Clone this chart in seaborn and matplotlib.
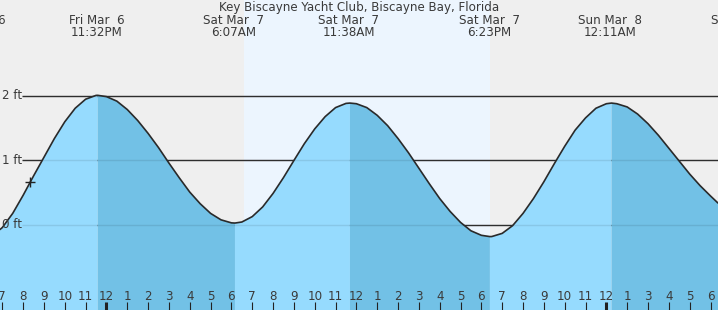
import numpy as np
import pandas as pd
import matplotlib
matplotlib.use("Agg")
import matplotlib.pyplot as plt
import matplotlib.transforms as mtransforms
import seaborn as sns

# ---------------- data (hours since Sat Mar 7 00:00, standard-time axis) ----------------
title = "Key Biscayne Yacht Club, Biscayne Bay, Florida"

curve_hours = [-5.11, -5, -4.5, -4, -3.5, -3, -2.5, -2, -1.5, -1, -0.5, -0.42, 0, 0.5, 1, 1.5,
               2, 2.5, 3, 3.5, 4, 4.5, 5, 5.5, 6, 6.17, 6.5, 7, 7.5, 8, 8.5, 9, 9.5, 10, 10.5,
               11, 11.5, 11.69, 12, 12.5, 13, 13.5, 14, 14.5, 15, 15.5, 16, 16.5, 17, 17.5, 18,
               18.41, 18.5, 19, 19.5, 20, 20.5, 21, 21.5, 22, 22.5, 23, 23.5, 24, 24.25, 24.5,
               25, 25.5, 26, 26.5, 27, 27.5, 28, 28.5, 29, 29.36]
curve_feet = [-0.07, -0.04, 0.18, 0.46, 0.76, 1.05, 1.34, 1.60, 1.81, 1.95, 2.009, 2.01, 1.99,
              1.92, 1.79, 1.62, 1.42, 1.20, 0.96, 0.73, 0.51, 0.33, 0.18, 0.08, 0.033, 0.03,
              0.046, 0.13, 0.28, 0.49, 0.735, 1.00, 1.26, 1.49, 1.68, 1.82, 1.885, 1.89, 1.88,
              1.82, 1.70, 1.54, 1.34, 1.12, 0.88, 0.64, 0.41, 0.21, 0.04, -0.09, -0.16, -0.18,
              -0.179, -0.13, -0.01, 0.18, 0.41, 0.67, 0.95, 1.22, 1.47, 1.66, 1.81, 1.88, 1.89,
              1.88, 1.83, 1.72, 1.57, 1.39, 1.19, 0.99, 0.79, 0.61, 0.45, 0.34]

high_hours = [-0.42, 11.69, 24.25]
low_hours = [6.17, 18.41]

now_hour = -3.67
now_feet = 0.67

sunrise_hour = 6.60
sunset_hour = 18.41

level_feet = [0, 1, 2]
level_labels = ["0 ft", "1 ft", "2 ft"]

event_hours = [-6.19, -0.47, 6.12, 11.64, 18.39, 24.19, 30.58]
event_days = ["Fri Mar  6", "Fri Mar  6", "Sat Mar  7", "Sat Mar  7", "Sat Mar  7",
              "Sun Mar  8", "Sun Mar  8"]
event_times = ["5:46PM", "11:32PM", "6:07AM", "11:38AM", "6:23PM", "12:11AM", "7:32AM"]

hour_ticks = list(range(-5, 30))
hour_labels = ["7", "8", "9", "10", "11", "12", "1", "2", "3", "4", "5", "6", "7", "8", "9",
               "10", "11", "12", "1", "2", "3", "4", "5", "6", "7", "8", "9", "10", "11",
               "12", "1", "3", "4", "5", "6"]
midnight_ticks = [0, 24]

# ---------------- style ----------------
sns.set_style("white")
plt.rcParams["font.family"] = ["DejaVu Sans"]

W, H = 718, 310
XMIN, XMAX = -5.11, 29.36
YMIN, YMAX = -1.318, 3.488

BG = "#EFEFEF"
DAY = "#ECF5FE"
LIGHT = "#96DBFE"
DARK = "#72C1E6"
TXT = "#3a3a3a"
FS = 8.6

fig = plt.figure(figsize=(W / 100, H / 100), dpi=100)
fig.patch.set_facecolor(BG)
ax = fig.add_axes([0, 0, 1, 1])
ax.set_facecolor(BG)
ax.set_xlim(XMIN, XMAX)
ax.set_ylim(YMIN, YMAX)

# daylight band
ax.axvspan(sunrise_hour, sunset_hour, color=DAY, lw=0, zorder=0)

# level lines (behind fill)
line_start = XMIN + 22 / 20.83
ax.hlines(level_feet, line_start, XMAX, color="#333333", lw=1.0, zorder=1)

# fill under the curve: rising light, falling dark
df = pd.DataFrame({"hour": curve_hours, "feet": curve_feet})
x = df["hour"].to_numpy()
y = df["feet"].to_numpy()
falling = np.zeros(len(x), dtype=bool)
for i, h in enumerate(high_hours):
    nxt = low_hours[i] if i < len(low_hours) else XMAX + 1
    falling |= (x >= h) & (x <= nxt)
rising = ~falling
for h in high_hours + low_hours:
    rising |= np.isclose(x, h)
ax.fill_between(x, y, YMIN, where=rising, color=LIGHT, lw=0, zorder=2)
ax.fill_between(x, y, YMIN, where=falling, color=DARK, lw=0, zorder=2)

# faint level lines over the fill
ax.hlines(level_feet, line_start, XMAX, color="#000000", alpha=0.09, lw=1.0, zorder=3)

# tide curve
sns.lineplot(data=df, x="hour", y="feet", color="#2a2a2a", linewidth=1.2, ax=ax,
             zorder=4, sort=False)

# current position marker
ax.plot([now_hour], [now_feet], marker="+", ms=6.5, mew=1.0, color="#222222", zorder=5)

ax.set_xlabel("")
ax.set_ylabel("")
for s in ax.spines.values():
    s.set_visible(False)

# ticks
ax.set_xticks(midnight_ticks)
ax.set_xticks(hour_ticks, minor=True)
ax.tick_params(axis="x", which="major", bottom=True, direction="in", length=5.8, width=2.2,
               color="#222222", labelbottom=False)
ax.tick_params(axis="x", which="minor", bottom=True, direction="in", length=5.8, width=0.8,
               color="#222222", labelbottom=False)
ax.set_yticks([])
ax.xaxis.set_zorder(7)

xt = mtransforms.blended_transform_factory(ax.transData, ax.transAxes)
yt = mtransforms.blended_transform_factory(ax.transAxes, ax.transData)

for t, lab in zip(hour_ticks, hour_labels):
    ax.text(t, 10 / H, lab, transform=xt, ha="center", va="baseline", fontsize=FS,
            color=TXT, zorder=6)

for lvl, lab in zip(level_feet, level_labels):
    ax.text(2.5 / W, lvl, lab, transform=yt, ha="left", va="center", fontsize=FS,
            color=TXT, zorder=6)

for t, d, tm in zip(event_hours, event_days, event_times):
    ax.text(t, 1 - 24.3 / H, d, transform=xt, ha="center", va="baseline", fontsize=FS,
            color=TXT, zorder=6, clip_on=False)
    ax.text(t, 1 - 36.3 / H, tm, transform=xt, ha="center", va="baseline", fontsize=FS,
            color=TXT, zorder=6, clip_on=False)

fig.text(359.5 / W, 1 - 11.2 / H, title, ha="center", va="baseline", fontsize=FS,
         color=TXT)

fig.savefig("out.png", dpi=100, facecolor=BG)
